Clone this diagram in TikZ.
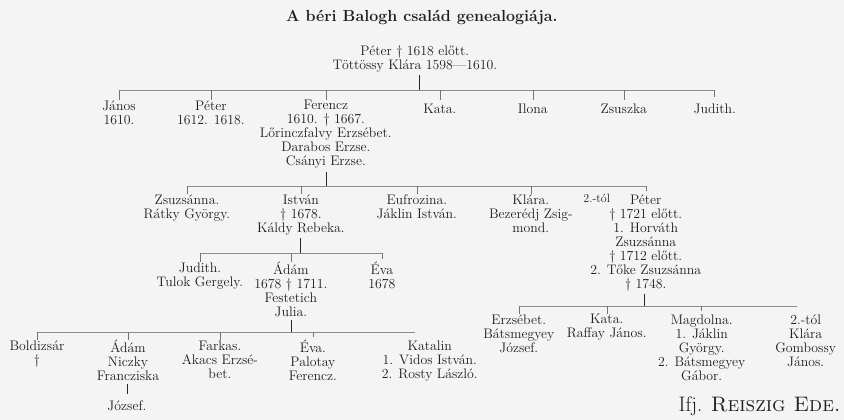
\documentclass[tikz,border=0pt]{standalone}
\usepackage{tikz}
\definecolor{Ink}{HTML}{1E1E1E}
\definecolor{Paper}{HTML}{F4F4F4}

\begin{document}
\begin{tikzpicture}[x=1pt, y=-1pt, Ink,
  pers/.style={align=center, anchor=north, yshift=12.6pt, inner sep=0pt,
               font=\fontsize{13.8}{14}\selectfont,
               execute at begin node=\rule{0pt}{12.6pt}},
  stem/.style={line width=0.9pt, black!85, shorten <=3pt},
  bar/.style={line width=0.45pt, black!45},
  tick/.style={line width=0.45pt, black!55, shorten >=3pt}]
  \fill[Paper] (0,0) rectangle (844,420);
  \node[anchor=base, font=\fontsize{16}{18}\selectfont\bfseries] (title) at (422, 22)
    {A béri Balogh család genealogiája.};

  \node[pers] (root) at (415, 58) {Péter † 1618 előtt.\\Töttössy Klára 1598---1610.};
  \coordinate (s1) at (420, 90);

  \node[pers] (janos)   at (119, 113) {János\\1610.};
  \node[pers] (peter)   at (211, 113) {Péter\\1612. 1618.};
  \node[pers] (ferencz) at (326, 113) {Ferencz\\1610. † 1667.\\Lőrinczfalvy Erzsébet.\\Darabos Erzse.\\Csányi Erzse.};
  \node[pers] (kata)    at (440, 113) {Kata.};
  \node[pers] (ilona)   at (533, 113) {Ilona};
  \node[pers] (zsuszka) at (624, 113) {Zsuszka};
  \node[pers] (judith)  at (715, 113) {Judith.};
  \coordinate (s2) at (327, 186);

  \node[pers] (zsuzsanna) at (187, 207) {Zsuzsánna.\\Rátky György.};
  \node[pers] (istvan)    at (301, 207) {István\\† 1678.\\Káldy Rebeka.};
  \node[pers] (eufrozina) at (417, 207) {Eufrozina.\\Jáklin István.};
  \node[pers] (klara)     at (531, 207) {Klára.\\Bezerédj Zsig-\\mond.};
  \node[anchor=base, inner sep=0pt, font=\fontsize{12}{14}\selectfont] (tol1) at (597, 203) {2.-tól};
  \node[pers] (peterB)    at (646, 207) {Péter\\† 1721 előtt.\\1. Horváth\\Zsuzsánna\\† 1712 előtt.\\2. Tőke Zsuzsánna\\† 1748.};
  \coordinate (s3) at (301, 253);
  \coordinate (s5) at (645, 306);

  \node[pers] (judithB) at (200, 275) {Judith.\\Tulok Gergely.};
  \node[pers] (adam)    at (291, 275) {Ádám\\1678 † 1711.\\Festetich\\Julia.};
  \node[pers] (eva)     at (382, 275) {Éva\\1678};
  \coordinate (s4) at (292, 332);
  \coordinate (e4) at (415, 332);

  \node[pers] (boldizsar) at (37, 353) {Boldizsár\\†};
  \node[pers] (adamB)     at (128, 353) {Ádám\\Niczky\\Francziska};
  \node[pers] (jozsef)    at (127, 410) {József.};
  \node[pers] (farkas)    at (220, 353) {Farkas.\\Akacs Erzsé-\\bet.};
  \node[pers] (evaB)      at (313, 353) {Éva.\\Palotay\\Ferencz.};
  \node[pers] (katalin)   at (430, 353) {Katalin\\1. Vidos István.\\2. Rosty László.};

  \node[pers] (erzsebet) at (519, 327) {Erzsébet.\\Bátsmegyey\\József.};
  \node[pers] (kataB)    at (607, 327) {Kata.\\Raffay János.};
  \node[pers] (magdolna) at (702, 327) {Magdolna.\\1. Jáklin\\György.\\2. Bátsmegyey\\Gábor.};
  \node[pers] (klaraB)   at (806, 327) {2.-tól\\Klára\\Gombossy\\János.};
  \coordinate (e5) at (797, 306);

  \node[anchor=base, font=\fontsize{21}{24}\selectfont] (sign) at (760, 412)
    {Ifj. \textsc{Reiszig Ede.}};

  \draw[stem] (s1 |- root.south) -- (s1);
  \draw[bar] (janos |- s1) -- (judith |- s1);
  \draw[tick] (janos |- s1) -- (janos.north) (peter |- s1) -- (peter.north)
    (ferencz |- s1) -- (ferencz.north) (kata |- s1) -- (kata.north)
    (ilona |- s1) -- (ilona.north) (zsuszka |- s1) -- (zsuszka.north)
    (judith |- s1) -- (judith.north);

  \draw[stem] (s2 |- ferencz.south) -- (s2);
  \draw[bar] (zsuzsanna |- s2) -- (peterB |- s2);
  \draw[tick] (zsuzsanna |- s2) -- (zsuzsanna.north) (istvan |- s2) -- (istvan.north)
    (eufrozina |- s2) -- (eufrozina.north) (klara |- s2) -- (klara.north)
    (peterB |- s2) -- (peterB.north);

  \draw[stem] (s3 |- istvan.south) -- (s3);
  \draw[bar] (judithB |- s3) -- (eva |- s3);
  \draw[tick] (judithB |- s3) -- (judithB.north) (adam |- s3) -- (adam.north)
    (eva |- s3) -- (eva.north);

  \draw[stem] (s4 |- adam.south) -- (s4);
  \draw[bar] (boldizsar |- s4) -- (e4);
  \draw[tick] (boldizsar |- s4) -- (boldizsar.north) (adamB |- s4) -- (adamB.north)
    (farkas |- s4) -- (farkas.north) (evaB |- s4) -- (evaB.north);
  \draw[stem, shorten >=3pt] (adamB.south) -- (adamB.south |- jozsef.north);

  \draw[stem] (s5 |- peterB.south) -- (s5);
  \draw[bar] (erzsebet |- s5) -- (e5);
  \draw[tick] (erzsebet |- s5) -- (erzsebet.north) (kataB |- s5) -- (kataB.north)
    (magdolna |- s5) -- (magdolna.north);
\end{tikzpicture}
\end{document}
